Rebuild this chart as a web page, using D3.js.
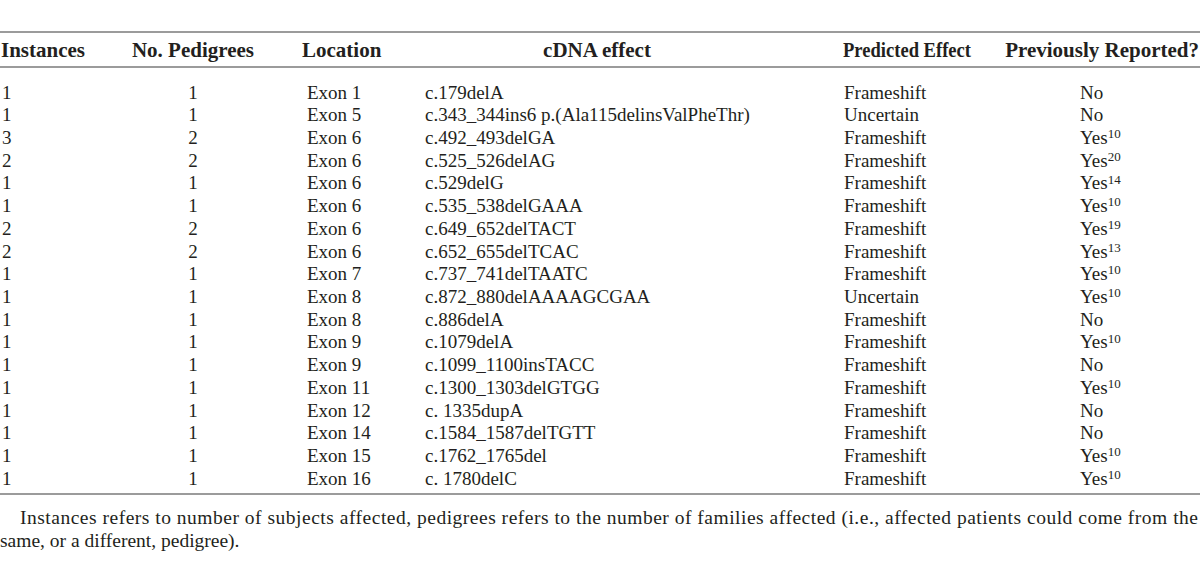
<!DOCTYPE html>
<html>
<head>
<meta charset="utf-8">
<script src="https://cdn.jsdelivr.net/npm/d3@7"></script>
<style>
  body { margin: 0; background: #fff; }
  svg text { font-family: "Liberation Serif", "DejaVu Serif", serif; fill: #231f20; }
</style>
</head>
<body>
<div id="table"></div>
<script>
// table values
const headers = ["Instances", "No. Pedigrees", "Location", "cDNA effect", "Predicted Effect", "Previously Reported?"];
const instances = [1, 1, 3, 2, 1, 1, 2, 2, 1, 1, 1, 1, 1, 1, 1, 1, 1, 1];
const pedigrees = [1, 1, 2, 2, 1, 1, 2, 2, 1, 1, 1, 1, 1, 1, 1, 1, 1, 1];
const locations = ["Exon 1", "Exon 5", "Exon 6", "Exon 6", "Exon 6", "Exon 6", "Exon 6", "Exon 6", "Exon 7",
  "Exon 8", "Exon 8", "Exon 9", "Exon 9", "Exon 11", "Exon 12", "Exon 14", "Exon 15", "Exon 16"];
const cdnaEffects = ["c.179delA", "c.343_344ins6 p.(Ala115delinsValPheThr)", "c.492_493delGA", "c.525_526delAG",
  "c.529delG", "c.535_538delGAAA", "c.649_652delTACT", "c.652_655delTCAC", "c.737_741delTAATC",
  "c.872_880delAAAAGCGAA", "c.886delA", "c.1079delA", "c.1099_1100insTACC", "c.1300_1303delGTGG",
  "c. 1335dupA", "c.1584_1587delTGTT", "c.1762_1765del", "c. 1780delC"];
const predicted = ["Frameshift", "Uncertain", "Frameshift", "Frameshift", "Frameshift", "Frameshift", "Frameshift",
  "Frameshift", "Frameshift", "Uncertain", "Frameshift", "Frameshift", "Frameshift", "Frameshift", "Frameshift",
  "Frameshift", "Frameshift", "Frameshift"];
const reported = ["No", "No", "Yes", "Yes", "Yes", "Yes", "Yes", "Yes", "Yes", "Yes", "No", "Yes", "No", "Yes",
  "No", "No", "Yes", "Yes"];
const refs = [null, null, 10, 20, 14, 10, 19, 13, 10, 10, null, 10, null, 10, null, null, 10, 10];
const footnote = [
  "Instances refers to number of subjects affected, pedigrees refers to the number of families affected (i.e., affected patients could come from the",
  "same, or a different, pedigree)."
];

const width = 1200, height = 576;

const svg = d3.select("#table").append("svg")
  .attr("width", width)
  .attr("height", height);

const rows = d3.range(instances.length);
const y = d3.scalePoint().domain(rows).range([92, 478]);

// column layout: header anchor + value anchor (hw = squeeze header to width)
const cols = [
  { hx: 1, ha: "start", vx: 2, va: "start", values: instances },
  { hx: 193, ha: "middle", vx: 193, va: "middle", values: pedigrees },
  { hx: 302, ha: "start", vx: 307, va: "start", values: locations },
  { hx: 597, ha: "middle", vx: 425, va: "start", values: cdnaEffects },
  { hx: 843, ha: "start", vx: 844, va: "start", values: predicted, hw: 128 },
  { hx: 1199, ha: "end", vx: 1080, va: "start", values: reported }
];

// rules
const rules = [32, 67, 494];
svg.selectAll("line.rule")
  .data(rules)
  .join("line")
  .attr("class", "rule")
  .attr("x1", 0)
  .attr("x2", width)
  .attr("y1", d => d)
  .attr("y2", d => d)
  .attr("stroke", "#7a7a7a")
  .attr("stroke-width", 1.5);

// header
svg.selectAll("text.head")
  .data(headers)
  .join("text")
  .attr("class", "head")
  .attr("x", (d, i) => cols[i].hx)
  .attr("y", 50)
  .attr("dy", "0.35em")
  .attr("text-anchor", (d, i) => cols[i].ha)
  .attr("font-weight", "bold")
  .attr("font-size", 21)
  .attr("textLength", (d, i) => cols[i].hw || null)
  .attr("lengthAdjust", "spacingAndGlyphs")
  .text(d => d);

// body cells
cols.forEach((c, ci) => {
  const t = svg.append("g").selectAll("text")
    .data(c.values)
    .join("text")
    .attr("x", c.vx)
    .attr("y", (d, i) => y(i))
    .attr("dy", "0.35em")
    .attr("text-anchor", c.va)
    .attr("font-size", 19)
    .text(d => d);

  // superscript reference numbers
  if (ci === 5) {
    t.each(function(d, i) {
      if (refs[i] === null) return;
      d3.select(this).append("tspan")
        .attr("dy", "-0.45em")
        .attr("font-size", 13)
        .text(refs[i]);
    });
  }
});

// footnote
svg.append("text")
  .attr("x", 20)
  .attr("y", 517)
  .attr("dy", "0.35em")
  .attr("font-size", 19.5)
  .attr("textLength", 1178)
  .attr("lengthAdjust", "spacing")
  .text(footnote[0]);

svg.append("text")
  .attr("x", 0)
  .attr("y", 540)
  .attr("dy", "0.35em")
  .attr("font-size", 19.5)
  .text(footnote[1]);
</script>
</body>
</html>
